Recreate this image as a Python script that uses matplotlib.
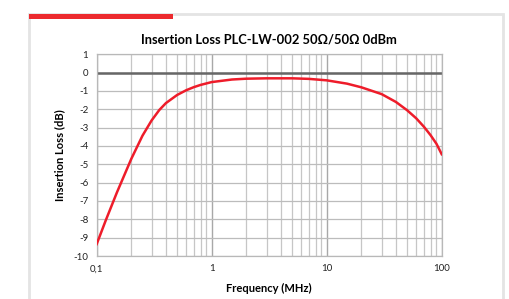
import numpy as np
import matplotlib.pyplot as plt
from matplotlib.patches import Rectangle
from matplotlib.ticker import FixedLocator, NullFormatter

# insertion loss
freq_mhz = [0.1, 0.12, 0.15, 0.2, 0.25, 0.3, 0.35, 0.4, 0.5, 0.6, 0.7, 0.8, 1, 1.5,
            2, 3, 5, 7, 10, 15, 20, 30, 40, 50, 60, 70, 80, 90, 100]
loss_db = [-9.35, -8.05, -6.53, -4.7, -3.44, -2.61, -2.04, -1.66, -1.22, -0.96, -0.79,
           -0.67, -0.515, -0.375, -0.33, -0.31, -0.31, -0.34, -0.42, -0.6, -0.8, -1.17,
           -1.6, -2.05, -2.49, -2.95, -3.41, -3.88, -4.45]
x_ticks = [0.1, 1, 10, 100]
x_labels = ["0,1", "1", "10", "100"]
y_ticks = list(range(-10, 2))

plt.rcParams['font.family'] = ['Lato', 'DejaVu Sans']
plt.rcParams['axes.unicode_minus'] = False

fig = plt.figure(figsize=(5.10, 2.99), dpi=100)

# card frame and red accent bar
fig.patches.append(Rectangle((29 / 510, -0.05), 474 / 510, 1 - 14 / 299 + 0.05,
                             transform=fig.transFigure, facecolor="none",
                             edgecolor="#e4e4e4", linewidth=2, zorder=-1))
fig.patches.append(Rectangle((29 / 510, 1 - 19 / 299), 144 / 510, 5 / 299,
                             transform=fig.transFigure, facecolor="#ec2a2e",
                             edgecolor="none", zorder=-1))

ax = fig.add_axes([0.1896, 0.1438, 0.6765, 0.6746])
ax.set_xscale("log")
ax.set_xlim(0.1, 100)
ax.set_ylim(-10, 1)

minor = [m * 10.0 ** d for d in (-1, 0, 1) for m in range(2, 10)]
ax.xaxis.set_major_locator(FixedLocator(x_ticks))
ax.xaxis.set_minor_locator(FixedLocator(minor))
ax.xaxis.set_minor_formatter(NullFormatter())
ax.set_xticklabels(x_labels)
ax.set_yticks(y_ticks)

ax.grid(True, which="major", axis="x", color="#a8a8a8", linewidth=1.0)
ax.grid(True, which="minor", axis="x", color="#c6c6c6", linewidth=0.9)
ax.grid(True, which="major", axis="y", color="#bcbcbc", linewidth=0.9)
ax.axhline(0, color="#666666", linewidth=1.8, zorder=2)
for s in ax.spines.values():
    s.set_color("#b8b8b8")
    s.set_linewidth(0.9)
ax.tick_params(which="both", length=0, labelsize=7, colors="#222222", pad=6)

ax.plot(freq_mhz, loss_db, color="#ee1c2a", linewidth=1.8, zorder=3,
        solid_joinstyle="round")

ax.set_title("Insertion Loss PLC-LW-002 50\u03a9/50\u03a9 0dBm", fontsize=9.3,
             fontweight="bold", pad=8)
ax.set_xlabel("Frequency (MHz)", fontsize=8, fontweight="bold", labelpad=7)
ax.set_ylabel("Insertion Loss (dB)", fontsize=8, fontweight="bold", labelpad=6)

fig.savefig("out.png", dpi=100)
